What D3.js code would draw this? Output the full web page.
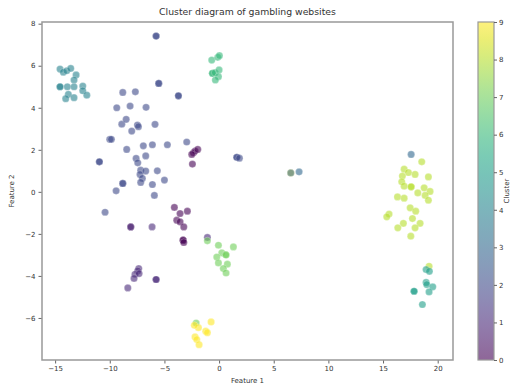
<!DOCTYPE html>
<html>
<head>
<meta charset="utf-8">
<script src="https://cdn.jsdelivr.net/npm/d3@7"></script>
<style>
  body { margin: 0; background: #fff; }
  text { font-family: "DejaVu Sans", sans-serif; fill: #333; }
</style>
</head>
<body>
<div id="chart"></div>
<script>
// data
var feature1 = [
  // cluster 4
  -14.55, -14.25, -13.94, -13.57, -13.08, -13.27, -14.55, -14.55, -13.88, -13.27, -12.47, -12.47, -12.1, -13.79, -14.03, -13.27,
  // cluster 6
  -0.67, -0.12, 0.03, -0.61, -0.61, -0.37, 0.0, -0.06, -0.34,
  // cluster 2
  -5.76, -5.76, -5.52, -5.52, -3.72, -3.72, -8.81, -7.66, -9.36, -8.14, -6.68, -8.9, -8.5, -7.47, -7.38, -5.86, -7.99,
  -10.0, -9.85, -8.45, -6.93, -6.1, -2.96, -10.95, -10.95, -7.59, -6.71, -7.44, -7.17, -7.23, -6.71, -5.65, -7.02,
  -7.17, -6.1, -5.0, -8.81, -8.81, -9.42, -5.92, -10.43, 1.62, 1.62, 1.86,
  // cluster 0
  -4.73, -2.35, -2.2, -2.5, -1.95, -2.44, -4.09, -2.9, -3.57, -3.87, -3.57, -3.23, -3.29, -3.29, -3.23,
  // cluster 1
  -8.08, -8.08, -6.13, -7.35, -7.44, -7.69, -7.32, -7.78, -8.35, -5.76, -5.76,
  // cluster 7
  -1.07, -1.07, -0.06, 1.31, 0.25, 0.61, -0.21, 0.64, -0.06, 0.76, 0.39, 0.64,
  // cluster 9
  -2.1, -1.89, -0.73, -2.26, -1.22, -1.07, -2.2, -2.04, -1.83,
  // cluster 3
  6.56, 6.56, 7.32,
  // cluster 8
  17.57, 18.54, 16.93, 17.32, 17.93, 16.77, 19.15, 16.71, 16.93, 17.57, 17.57, 18.76, 19.3, 18.18, 16.32, 16.93,
  18.85, 19.15, 17.48, 17.99, 15.55, 15.34, 17.69, 16.86, 18.39, 16.35, 17.93, 17.54,
  // cluster 5
  19.21, 18.94, 19.24, 18.94, 19.0, 19.55, 19.21, 17.84, 17.84, 18.6
];
var feature2 = [
  5.84, 5.69, 5.76, 5.87, 5.56, 5.32, 5.0, 5.0, 5.0, 5.0, 5.03, 4.81, 4.6, 4.64, 4.43, 4.48,
  6.27, 6.4, 6.48, 5.64, 5.64, 5.67, 5.8, 5.48, 5.32,
  7.41, 7.41, 5.16, 5.16, 4.57, 4.57, 4.73, 4.76, 4.0, 4.08, 4.02, 3.22, 3.45, 3.18, 3.1, 3.21, 2.89,
  2.5, 2.5, 2.02, 2.19, 2.24, 2.37, 1.43, 1.43, 1.59, 1.71, 1.38, 1.03, 0.83, 0.99, 1.0, 0.64,
  0.45, 0.35, 0.56, 0.4, 0.4, 0.05, -0.17, -0.97, 1.64, 1.64, 1.6,
  2.24, 1.86, 1.94, 1.78, 2.02, 1.32, -0.74, -0.92, -1.03, -1.35, -1.43, -1.67, -2.3, -2.3, -2.41,
  -1.67, -1.67, -1.67, -3.65, -3.76, -3.92, -3.89, -4.12, -4.57, -4.17, -4.17,
  -2.17, -2.33, -2.54, -2.62, -2.9, -2.98, -3.1, -3.01, -3.38, -3.44, -3.65, -3.86,
  -6.24, -6.46, -6.19, -6.35, -6.63, -6.7, -6.9, -7.03, -7.27,
  0.9, 0.9, 0.95,
  1.78, 1.43, 1.08, 0.92, 0.83, 0.75, 0.71, 0.48, 0.27, 0.24, 0.24, 0.19, 0.02, -0.05, -0.24, -0.3,
  -0.17, -0.4, -0.76, -0.92, -1.06, -1.19, -1.27, -1.5, -1.5, -1.71, -1.71, -2.11,
  -3.54, -3.7, -3.78, -4.31, -4.41, -4.52, -4.76, -4.73, -4.73, -5.36
];
var clusterCounts = [[4, 16], [6, 9], [2, 45], [0, 15], [1, 11], [7, 12], [9, 9], [3, 3], [8, 28], [5, 10]];
var clusters = [];
clusterCounts.forEach(function(c) { for (var i = 0; i < c[1]; i++) clusters.push(c[0]); });

var xTicks = [-15, -10, -5, 0, 5, 10, 15, 20];
var yTicks = [-6, -4, -2, 0, 2, 4, 6, 8];
var cbTicks = [0, 1, 2, 3, 4, 5, 6, 7, 8, 9];

var W = 511, H = 387;
var plot = {left: 42, right: 453, top: 22, bottom: 360};
var cb = {left: 478, right: 494};

var svg = d3.select("#chart").append("svg")
    .attr("width", W)
    .attr("height", H);

var x = d3.scaleLinear().domain([-16.2, 21.4]).range([plot.left, plot.right]);
var y = d3.scaleLinear().domain([-8.0, 8.08]).range([plot.bottom, plot.top]);
var color = d3.scaleSequential(d3.interpolateViridis).domain([0, 9]);

//title
svg.append("text")
    .attr("x", (plot.left + plot.right) / 2)
    .attr("y", 15)
    .attr("text-anchor", "middle")
    .attr("font-size", 9.3)
    .text("Cluster diagram of gambling websites");

//points
var pts = d3.range(feature1.length);
svg.append("g").selectAll("circle")
    .data(pts)
  .enter().append("circle")
    .attr("cx", function(i) { return x(feature1[i]); })
    .attr("cy", function(i) { return y(feature2[i]); })
    .attr("r", 3.6)
    .attr("fill", function(i) { return color(clusters[i]); })
    .attr("fill-opacity", 0.6)
    .attr("stroke", "#fff")
    .attr("stroke-opacity", 0.5)
    .attr("stroke-width", 0.5);

//axes
var minus = function(d) { return d < 0 ? "\u2212" + (-d) : d; };
var xAxis = d3.axisBottom(x).tickValues(xTicks).tickSize(3.5).tickPadding(3).tickFormat(minus);
var yAxis = d3.axisLeft(y).tickValues(yTicks).tickSize(3.5).tickPadding(3).tickFormat(minus);

var gx = svg.append("g").attr("transform", "translate(0," + plot.bottom + ")").call(xAxis);
var gy = svg.append("g").attr("transform", "translate(" + plot.left + ",0)").call(yAxis);
[gx, gy].forEach(function(g) {
  g.select(".domain").remove();
  g.selectAll("line").attr("stroke", "#666");
  g.selectAll("text").attr("font-size", 7).attr("fill", "#333").style("font-family", "DejaVu Sans");
});

//frame
svg.append("rect")
    .attr("x", plot.left)
    .attr("y", plot.top)
    .attr("width", plot.right - plot.left)
    .attr("height", plot.bottom - plot.top)
    .attr("fill", "none")
    .attr("stroke", "#999")
    .attr("stroke-width", 1.5);

svg.append("text")
    .attr("x", (plot.left + plot.right) / 2)
    .attr("y", 383)
    .attr("text-anchor", "middle")
    .attr("font-size", 7)
    .text("Feature 1");

svg.append("text")
    .attr("transform", "translate(14," + (plot.top + plot.bottom) / 2 + ") rotate(-90)")
    .attr("text-anchor", "middle")
    .attr("font-size", 7)
    .text("Feature 2");

//colorbar
var defs = svg.append("defs");
var grad = defs.append("linearGradient")
    .attr("id", "viridis")
    .attr("x1", 0).attr("y1", 1).attr("x2", 0).attr("y2", 0);
d3.range(0, 1.0001, 0.05).forEach(function(t) {
  grad.append("stop")
      .attr("offset", t)
      .attr("stop-color", d3.interpolateViridis(t))
      .attr("stop-opacity", 0.6);
});

svg.append("rect")
    .attr("x", cb.left)
    .attr("y", plot.top)
    .attr("width", cb.right - cb.left)
    .attr("height", plot.bottom - plot.top)
    .attr("fill", "url(#viridis)")
    .attr("stroke", "#999")
    .attr("stroke-width", 1.2);

var cbScale = d3.scaleLinear().domain([0, 9]).range([plot.bottom, plot.top]);
var gc = svg.append("g")
    .attr("transform", "translate(" + cb.right + ",0)")
    .call(d3.axisRight(cbScale).tickValues(cbTicks).tickSize(3).tickPadding(2));
gc.select(".domain").remove();
gc.selectAll("line").attr("stroke", "#666");
gc.selectAll("text").attr("font-size", 7).attr("fill", "#333").style("font-family", "DejaVu Sans");

svg.append("text")
    .attr("transform", "translate(509," + (plot.top + plot.bottom) / 2 + ") rotate(-90)")
    .attr("text-anchor", "middle")
    .attr("font-size", 7)
    .text("Cluster");
</script>
</body>
</html>
